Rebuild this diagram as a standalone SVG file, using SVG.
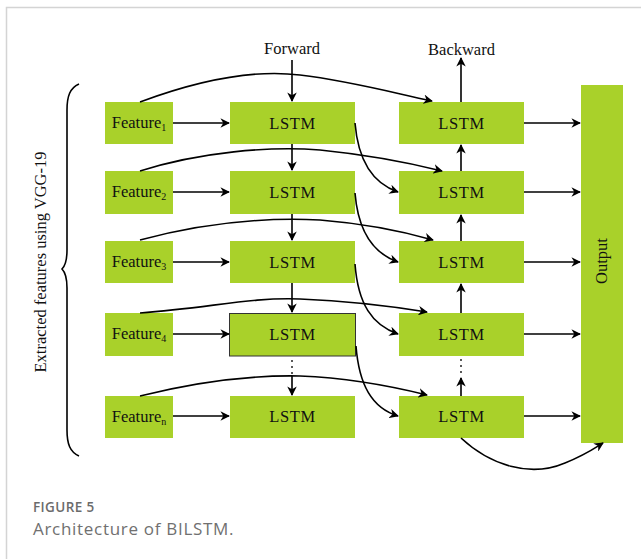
<svg xmlns="http://www.w3.org/2000/svg" width="641" height="559" viewBox="0 0 641 559">
  <defs>
    <marker id="ah" viewBox="0 0 10 10" refX="9" refY="5" markerWidth="9.5" markerHeight="9.5" markerUnits="userSpaceOnUse" orient="auto">
      <path d="M0,0 L10,5 L0,10 L3,5 Z" fill="#000"/>
    </marker>
    <style>
      .box { fill: #a9d12a; }
      .lbl { font-family: "Liberation Serif", "Times New Roman", serif; font-size: 16.5px; fill: #111; text-anchor: middle; }
      .cell { letter-spacing: 0.6px; }
      .sub { font-size: 10px; }
      .ln { fill: none; stroke: #000; stroke-width: 1.6; }
      .arr { fill: none; stroke: #000; stroke-width: 1.6; marker-end: url(#ah); }
      .dot { fill: #222; }
      .cap { font-family: "Open Sans", "Noto Sans", sans-serif; }
    </style>
  </defs>
  <rect width="641" height="559" fill="#fff"/>
  <!-- card frame -->
  <path d="M6.5,559 V7.5 H641" fill="none" stroke="#d4d4d4" stroke-width="1.5"/>

  <!-- column headers -->
  <text class="lbl" x="292" y="54" font-size="17">Forward</text>
  <text class="lbl" x="461.5" y="55" font-size="17">Backward</text>

  <!-- feature inputs -->
  <g id="feature1"><rect class="box" x="105" y="102" width="68" height="42"/><text class="lbl" x="139" y="128">Feature<tspan class="sub" dy="3">1</tspan></text></g>
  <g id="feature2"><rect class="box" x="105" y="171" width="68" height="43"/><text class="lbl" x="139" y="197">Feature<tspan class="sub" dy="3">2</tspan></text></g>
  <g id="feature3"><rect class="box" x="105" y="241" width="68" height="42"/><text class="lbl" x="139" y="267">Feature<tspan class="sub" dy="3">3</tspan></text></g>
  <g id="feature4"><rect class="box" x="105" y="313" width="68" height="43"/><text class="lbl" x="139" y="339">Feature<tspan class="sub" dy="3">4</tspan></text></g>
  <g id="featuren"><rect class="box" x="105" y="396" width="68" height="42"/><text class="lbl" x="139" y="422">Feature<tspan class="sub" dy="3">n</tspan></text></g>

  <!-- forward LSTM cells -->
  <g id="fwd1"><rect class="box" x="230" y="102" width="125" height="42"/><text class="lbl cell" x="292.5" y="129">LSTM</text></g>
  <g id="fwd2"><rect class="box" x="230" y="171" width="125" height="43"/><text class="lbl cell" x="292.5" y="198">LSTM</text></g>
  <g id="fwd3"><rect class="box" x="230" y="241" width="125" height="42"/><text class="lbl cell" x="292.5" y="268">LSTM</text></g>
  <g id="fwd4"><rect class="box" x="229.5" y="313.5" width="126" height="42.5" stroke="#333" stroke-width="1"/><text class="lbl cell" x="292.5" y="340">LSTM</text></g>
  <g id="fwdn"><rect class="box" x="230" y="396" width="125" height="42"/><text class="lbl cell" x="292.5" y="422">LSTM</text></g>

  <!-- backward LSTM cells -->
  <g id="bwd1"><rect class="box" x="399" y="102" width="125" height="42"/><text class="lbl cell" x="461.5" y="129">LSTM</text></g>
  <g id="bwd2"><rect class="box" x="399" y="171" width="125" height="43"/><text class="lbl cell" x="461.5" y="198">LSTM</text></g>
  <g id="bwd3"><rect class="box" x="399" y="241" width="125" height="42"/><text class="lbl cell" x="461.5" y="268">LSTM</text></g>
  <g id="bwd4"><rect class="box" x="399" y="313" width="125" height="43"/><text class="lbl cell" x="461.5" y="340">LSTM</text></g>
  <g id="bwdn"><rect class="box" x="399" y="396" width="125" height="42"/><text class="lbl cell" x="461.5" y="422">LSTM</text></g>

  <!-- output layer -->
  <g id="output"><rect class="box" x="581" y="85" width="42" height="358"/><text class="lbl" transform="translate(607,261) rotate(-90)">Output</text></g>

  <!-- side brace and caption -->
  <g id="brace">
    <path class="ln" d="M79,84 C70,88 67,96 67,110 V250 C67,262 64,267 62,269 C64,271 67,276 67,288 V430 C67,444 70,452 79,456" stroke-width="1.4"/>
    <text class="lbl" transform="translate(46,262) rotate(-90)">Extracted features using VGG-19</text>
  </g>

  <g id="connectors">
    <!-- header arrows -->
    <line class="arr" x1="292" y1="60" x2="292" y2="101"/>
    <line class="arr" x1="461" y1="102" x2="461" y2="58"/>
    <!-- feature to forward LSTM -->
    <line class="arr" x1="173" y1="123" x2="229" y2="123"/>
    <line class="arr" x1="173" y1="192" x2="229" y2="192"/>
    <line class="arr" x1="173" y1="262" x2="229" y2="262"/>
    <line class="arr" x1="173" y1="334" x2="229" y2="334"/>
    <line class="arr" x1="173" y1="416" x2="229" y2="416"/>
    <!-- forward chain -->
    <line class="arr" x1="292" y1="144" x2="292" y2="170"/>
    <line class="arr" x1="292" y1="214" x2="292" y2="240"/>
    <line class="arr" x1="292" y1="283" x2="292" y2="312"/>
    <line class="arr" x1="292" y1="376" x2="292" y2="395"/>
    <circle class="dot" cx="292" cy="361" r="1"/>
    <circle class="dot" cx="292" cy="367" r="1"/>
    <circle class="dot" cx="292" cy="373" r="1"/>
    <!-- backward chain -->
    <line class="arr" x1="461" y1="171" x2="461" y2="145"/>
    <line class="arr" x1="461" y1="241" x2="461" y2="215"/>
    <line class="arr" x1="461" y1="313" x2="461" y2="284"/>
    <line class="arr" x1="461" y1="396" x2="461" y2="378"/>
    <circle class="dot" cx="461" cy="360" r="1"/>
    <circle class="dot" cx="461" cy="366" r="1"/>
    <circle class="dot" cx="461" cy="372" r="1"/>
    <!-- backward LSTM to output -->
    <line class="arr" x1="524" y1="123" x2="580" y2="123"/>
    <line class="arr" x1="524" y1="192" x2="580" y2="192"/>
    <line class="arr" x1="524" y1="262" x2="580" y2="262"/>
    <line class="arr" x1="524" y1="334" x2="580" y2="334"/>
    <line class="arr" x1="524" y1="416" x2="580" y2="416"/>
    <!-- feature skip arcs into backward LSTM -->
    <path class="arr" d="M140,102 C210,76 260,70 300,75 C350,81 390,92 432,101"/>
    <path class="arr" d="M140,171 C200,152 270,146 320,150 C370,155 410,163 442,171"/>
    <path class="arr" d="M140,240 C200,224 260,217 320,220 C370,224 405,232 433,240"/>
    <path class="arr" d="M140,313 C210,308 250,297 300,299 C350,301 390,306 427,312"/>
    <path class="arr" d="M140,396 C200,381 250,375 300,376 C350,378 395,387 427,395"/>
    <!-- forward LSTM to next backward LSTM -->
    <path class="arr" d="M355,123 C358,160 372,183 398,192"/>
    <path class="arr" d="M355,193 C358,230 372,253 398,262"/>
    <path class="arr" d="M355,264 C358,304 372,325 398,334"/>
    <path class="arr" d="M356,346 C359,385 372,408 398,416"/>
    <!-- last backward LSTM to output -->
    <path class="arr" d="M461,438 C490,465 530,478 565,463 C585,455 595,448 603,443"/>
  </g>

  <!-- figure caption -->
  <text class="cap" x="33" y="512" font-size="13.5" font-weight="600" letter-spacing="0.4" fill="#6b6b6b">FIGURE 5</text>
  <text class="cap" x="33" y="535" font-size="17" letter-spacing="0.7" fill="#707070">Architecture of BILSTM.</text>
</svg>
